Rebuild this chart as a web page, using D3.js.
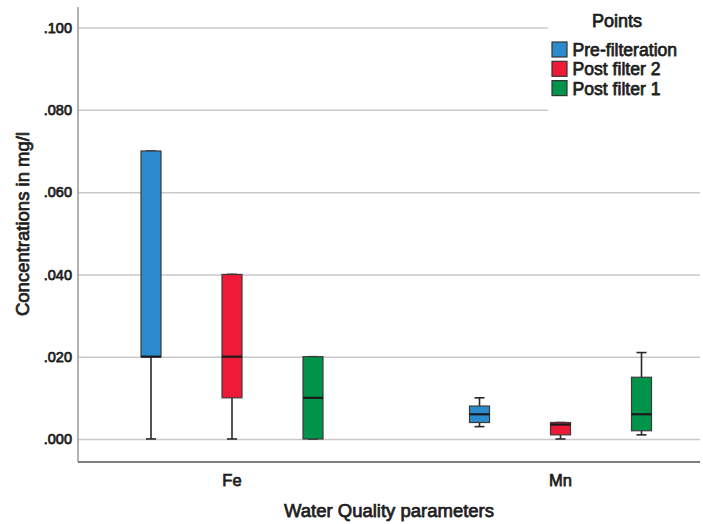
<!DOCTYPE html>
<html>
<head>
<meta charset="utf-8">
<script src="https://cdn.jsdelivr.net/npm/d3@7/dist/d3.min.js"></script>
<style>
  html, body { margin: 0; padding: 0; background: #fff; }
  svg { display: block; font-family: "Liberation Sans", Arial, sans-serif; }
  .lbl { fill: #1e1e1e; stroke: #1e1e1e; stroke-width: 0.75px; stroke-linejoin: round; }
</style>
</head>
<body>
<svg id="chart" width="703" height="524"></svg>
<script>
// Water quality parameters on the x axis
const categories = ["Fe", "Mn"];
// Sampling points (legend order)
const groups = ["Pre-filteration", "Post filter 2", "Post filter 1"];
const groupColors = ["#2b8bcd", "#ed1b37", "#00944a"];
// Box-plot summaries per parameter: [lower whisker, Q1, median, Q3, upper whisker] (mg/l)
const preFilteration = [[0.000, 0.020, 0.020, 0.070, 0.070], [0.003, 0.004, 0.006, 0.008, 0.010]];
const postFilter2    = [[0.000, 0.010, 0.020, 0.040, 0.040], [0.000, 0.001, 0.0035, 0.004, 0.004]];
const postFilter1    = [[0.000, 0.000, 0.010, 0.020, 0.020], [0.001, 0.002, 0.006, 0.015, 0.021]];
const yTicks = [0, 0.02, 0.04, 0.06, 0.08, 0.10];

const seriesStats = [preFilteration, postFilter2, postFilter1];
const boxes = [];
groups.forEach((g, gi) => {
  categories.forEach((c, ci) => {
    const s = seriesStats[gi][ci];
    boxes.push({ group: g, color: groupColors[gi], cat: c, lo: s[0], q1: s[1], med: s[2], q3: s[3], hi: s[4] });
  });
});

const svg = d3.select("#chart");
const plotLeft = 78, plotRight = 700, plotTop = 7, plotBottom = 462;

const y = d3.scaleLinear().domain([-0.0056, 0.105]).range([plotBottom, plotTop]);
const x = d3.scalePoint().domain(categories).range([232, 560.5]);
const xg = d3.scalePoint().domain(groups).range([-81, 81]);
const boxW = 20, capW = 10;

// Gridlines + tick labels
const yAxis = svg.append("g")
  .attr("transform", `translate(${plotLeft},0)`)
  .call(d3.axisLeft(y).tickValues(yTicks)
    .tickSize(-(plotRight - plotLeft)).tickPadding(6)
    .tickFormat(d => d3.format(".3f")(d).replace(/^0/, "")));
yAxis.select(".domain").remove();
yAxis.selectAll(".tick line").attr("stroke", "#c9c9cc").attr("stroke-width", 1.5);
yAxis.selectAll(".tick text")
  .attr("class", "lbl").attr("font-size", 14.5)
  .attr("font-family", "Liberation Sans, Arial, sans-serif");

// Axis frame
svg.append("line").attr("x1", plotLeft).attr("x2", plotLeft).attr("y1", plotTop).attr("y2", plotBottom)
  .attr("stroke", "#9a9a9a").attr("stroke-width", 1.5);
svg.append("line").attr("x1", plotLeft).attr("x2", plotRight).attr("y1", plotBottom).attr("y2", plotBottom)
  .attr("stroke", "#555").attr("stroke-width", 1.5);

// Category labels
svg.append("g").selectAll("text").data(categories).join("text")
  .attr("class", "lbl")
  .attr("x", d => x(d)).attr("y", 486)
  .attr("text-anchor", "middle").attr("font-size", 16.5)
  .text(d => d);

// Axis titles
svg.append("text").attr("class", "lbl").attr("x", 389).attr("y", 517).attr("text-anchor", "middle")
  .attr("font-size", 18.5)
  .text("Water Quality parameters");
svg.append("text").attr("class", "lbl").attr("transform", "translate(29,224) rotate(-90)")
  .attr("text-anchor", "middle").attr("font-size", 18.5)
  .text("Concentrations in mg/l");

// Box plots
const bx = svg.append("g").selectAll("g").data(boxes).join("g")
  .attr("transform", d => `translate(${x(d.cat) + xg(d.group)},0)`);

// whiskers
bx.append("line").attr("x1", 0).attr("x2", 0)
  .attr("y1", d => y(d.q3)).attr("y2", d => y(d.hi))
  .attr("stroke", "#2a2a2a").attr("stroke-width", 1.6);
bx.append("line").attr("x1", 0).attr("x2", 0)
  .attr("y1", d => y(d.q1)).attr("y2", d => y(d.lo))
  .attr("stroke", "#2a2a2a").attr("stroke-width", 1.6);
bx.append("line").attr("x1", -capW / 2).attr("x2", capW / 2)
  .attr("y1", d => y(d.hi)).attr("y2", d => y(d.hi))
  .attr("stroke", "#2a2a2a").attr("stroke-width", 1.6);
bx.append("line").attr("x1", -capW / 2).attr("x2", capW / 2)
  .attr("y1", d => y(d.lo)).attr("y2", d => y(d.lo))
  .attr("stroke", "#2a2a2a").attr("stroke-width", 1.6);
// boxes
bx.append("rect")
  .attr("x", -boxW / 2).attr("width", boxW)
  .attr("y", d => y(d.q3)).attr("height", d => y(d.q1) - y(d.q3))
  .attr("fill", d => d.color).attr("stroke", "#3a3a3a").attr("stroke-width", 1.2);
// medians
bx.append("line").attr("x1", -boxW / 2).attr("x2", boxW / 2)
  .attr("y1", d => y(d.med)).attr("y2", d => y(d.med))
  .attr("stroke", "#1a1a1a").attr("stroke-width", 2.2);

// Legend
const lg = svg.append("g");
lg.append("rect").attr("x", 548).attr("y", 0).attr("width", 155).attr("height", 112).attr("fill", "#fff");
lg.append("text").attr("class", "lbl").attr("x", 617).attr("y", 27).attr("text-anchor", "middle")
  .attr("font-size", 18).text("Points");
const li = lg.selectAll("g.item").data(groups).join("g").attr("class", "item")
  .attr("transform", (d, i) => `translate(552,${42 + i * 19.3})`);
li.append("rect").attr("width", 15).attr("height", 15)
  .attr("fill", (d, i) => groupColors[i]).attr("stroke", "#333").attr("stroke-width", 1.2);
li.append("text").attr("class", "lbl").attr("x", 20.5).attr("y", 14)
  .attr("font-size", 17.6).text(d => d);
</script>
</body>
</html>
